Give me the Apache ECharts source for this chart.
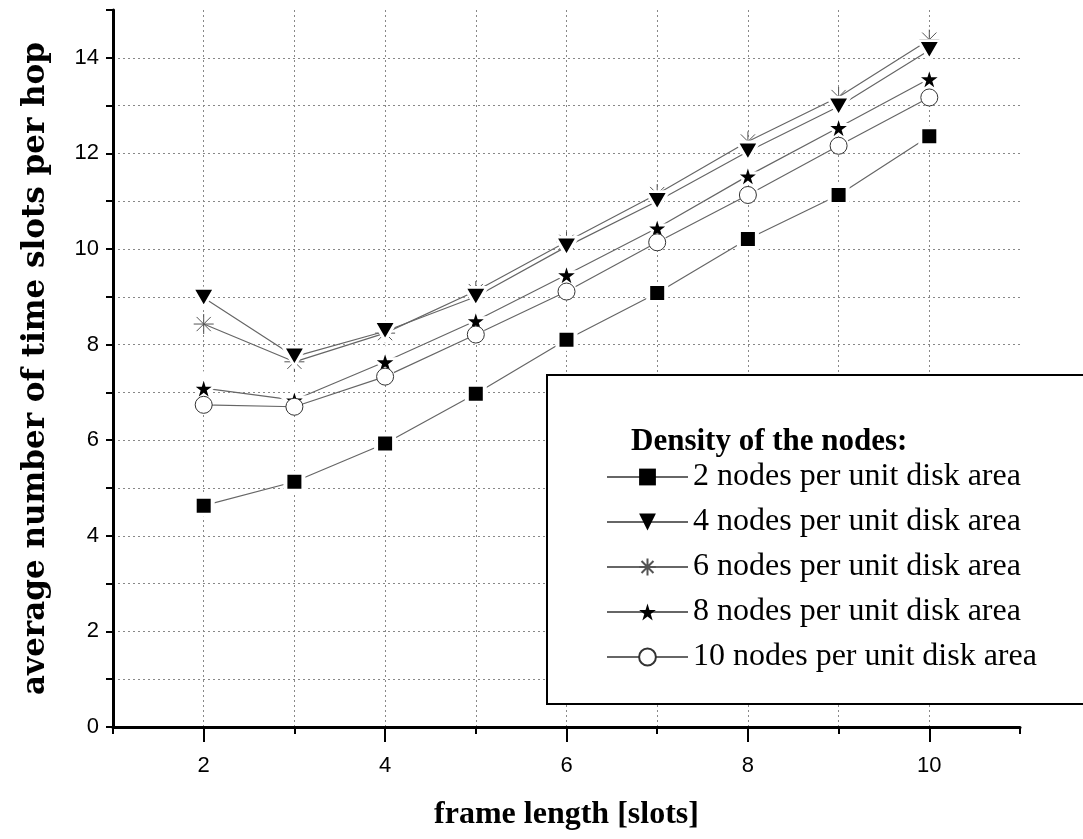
<!DOCTYPE html>
<html>
<head>
<meta charset="utf-8">
<script src="https://cdn.jsdelivr.net/npm/echarts@6/dist/echarts.min.js"></script>
<style>
html,body{margin:0;padding:0;background:#fff;}
#chart{width:1083px;height:839px;}
</style>
</head>
<body>
<div id="chart"></div>
<script>
// ---- data ----
const frameLength = [2, 3, 4, 5, 6, 7, 8, 9, 10];
const nodes2  = [4.63, 5.13, 5.93, 6.97, 8.10, 9.08, 10.21, 11.13, 12.36];
const nodes4  = [8.98, 7.75, 8.28, 9.00, 10.05, 11.00, 12.04, 12.98, 14.16];
const nodes6  = [8.43, 7.64, 8.24, 9.12, 10.15, 11.15, 12.25, 13.18, 14.38];
const nodes8  = [7.09, 6.84, 7.64, 8.50, 9.46, 10.44, 11.53, 12.54, 13.56];
const nodes10 = [6.74, 6.70, 7.33, 8.21, 9.11, 10.14, 11.13, 12.16, 13.17];
const seriesNames = [
  '2 nodes per unit disk area',
  '4 nodes per unit disk area',
  '6 nodes per unit disk area',
  '8 nodes per unit disk area',
  '10 nodes per unit disk area'
];
const xMajorTicks = [2, 4, 6, 8, 10];
const legendTitle = 'Density of the nodes:';
const xTitle = 'frame length [slots]';
const yTitle = 'average number of time slots per hop';

const pairs = arr => frameLength.map((x, i) => [x, arr[i]]);

const STAR = 'path://M50,0 L61.2,34.5 L97.6,34.5 L68.2,55.9 L79.4,90.5 L50,69.1 L20.6,90.5 L31.8,55.9 L2.4,34.5 L38.8,34.5 Z';
const ASTER = 'path://M0,10 L20,10 M10,0 L10,20 M2.9,2.9 L17.1,17.1 M17.1,2.9 L2.9,17.1';

const lineCol = '#666';
const serif = '"Liberation Serif", "DejaVu Serif", serif';
const sans = '"Liberation Sans", Arial, sans-serif';

const chart = echarts.init(document.getElementById('chart'), null, {renderer: 'canvas'});

const legendData = seriesNames.map((n, i) => (i === 2 || i === 4)
  ? {name: n}
  : {name: n, itemStyle: {borderWidth: 0}});

const option = {
  animation: false,
  backgroundColor: '#fff',
  grid: {left: 113, right: 63, top: 10, bottom: 112, containLabel: false},
  title: {
    text: legendTitle,
    left: 626, top: 421,
    textStyle: {fontFamily: serif, fontWeight: 'bold', fontSize: 31, color: '#000'},
    z: 10
  },
  legend: {
    orient: 'vertical',
    left: 601, top: 456,
    itemWidth: 81, itemHeight: 21, itemGap: 13,
    data: legendData,
    textStyle: {fontFamily: serif, fontSize: 32, color: '#000', lineHeight: 26, padding: [0, 0, 0, 0]},
    z: 10
  },
  graphic: [{
    type: 'rect',
    shape: {x: 547, y: 375, width: 600, height: 329},
    style: {fill: '#fff', stroke: '#000', lineWidth: 2},
    z: 5
  }],
  xAxis: [{
    type: 'value', min: 1, max: 11, interval: 1,
    name: xTitle, nameLocation: 'middle', nameGap: 72,
    nameTextStyle: {fontFamily: serif, fontWeight: 'bold', fontSize: 32, color: '#000'},
    axisLine: {show: true, lineStyle: {color: '#000', width: 3}},
    axisTick: {show: true, length: 7, lineStyle: {color: '#000', width: 2}},
    axisLabel: {show: false},
    splitLine: {show: true, showMinLine: false, showMaxLine: false, lineStyle: {color: '#888', type: [2, 3], width: 1}}
  }, {
    type: 'value', min: 1, max: 11, position: 'bottom', gridIndex: 0,
    axisLine: {show: false},
    axisTick: {show: true, length: 15, customValues: xMajorTicks, lineStyle: {color: '#000', width: 2}},
    axisLabel: {show: true, customValues: xMajorTicks, margin: 28, fontFamily: sans, fontSize: 22, color: '#000'},
    splitLine: {show: false}
  }],
  yAxis: {
    type: 'value', min: 0, max: 15, interval: 1,
    name: yTitle, nameLocation: 'middle', nameGap: 62,
    nameTextStyle: {fontFamily: '"DejaVu Serif", serif', fontWeight: 'bold', fontSize: 31, color: '#000'},
    axisLine: {show: true, lineStyle: {color: '#000', width: 3}},
    axisTick: {show: true, length: 7, lineStyle: {color: '#000', width: 2}},
    axisLabel: {
      margin: 14, fontFamily: sans, fontSize: 22, color: '#000',
      formatter: v => (v % 2 === 0 && v < 15) ? String(v) : ''
    },
    splitLine: {show: true, showMinLine: false, showMaxLine: false, lineStyle: {color: '#888', type: [2, 3], width: 1}}
  },
  series: [
    {
      name: seriesNames[0], type: 'line', data: pairs(nodes2), z: 3,
      symbol: 'rect', symbolSize: 18,
      itemStyle: {color: '#000', borderColor: '#fff', borderWidth: 4},
      lineStyle: {color: lineCol, width: 1.2}
    },
    {
      name: seriesNames[1], type: 'line', data: pairs(nodes4), z: 4,
      symbol: 'triangle', symbolRotate: 180, symbolSize: [22, 19],
      itemStyle: {color: '#000', borderColor: '#fff', borderWidth: 3},
      lineStyle: {color: lineCol, width: 1.2}
    },
    {
      name: seriesNames[2], type: 'line', data: pairs(nodes6), z: 2,
      symbol: ASTER, symbolSize: 20,
      itemStyle: {color: 'none', borderColor: '#555', borderWidth: 1},
      lineStyle: {color: lineCol, width: 1.2}
    },
    {
      name: seriesNames[3], type: 'line', data: pairs(nodes8), z: 3,
      symbol: STAR, symbolSize: 25,
      itemStyle: {color: '#000', borderColor: '#fff', borderWidth: 3},
      lineStyle: {color: lineCol, width: 1.2}
    },
    {
      name: seriesNames[4], type: 'line', data: pairs(nodes10), z: 3,
      symbol: 'circle', symbolSize: 17,
      itemStyle: {color: '#fff', borderColor: '#333', borderWidth: 1},
      lineStyle: {color: lineCol, width: 1.2}
    }
  ]
};
chart.setOption(option);
</script>
</body>
</html>
